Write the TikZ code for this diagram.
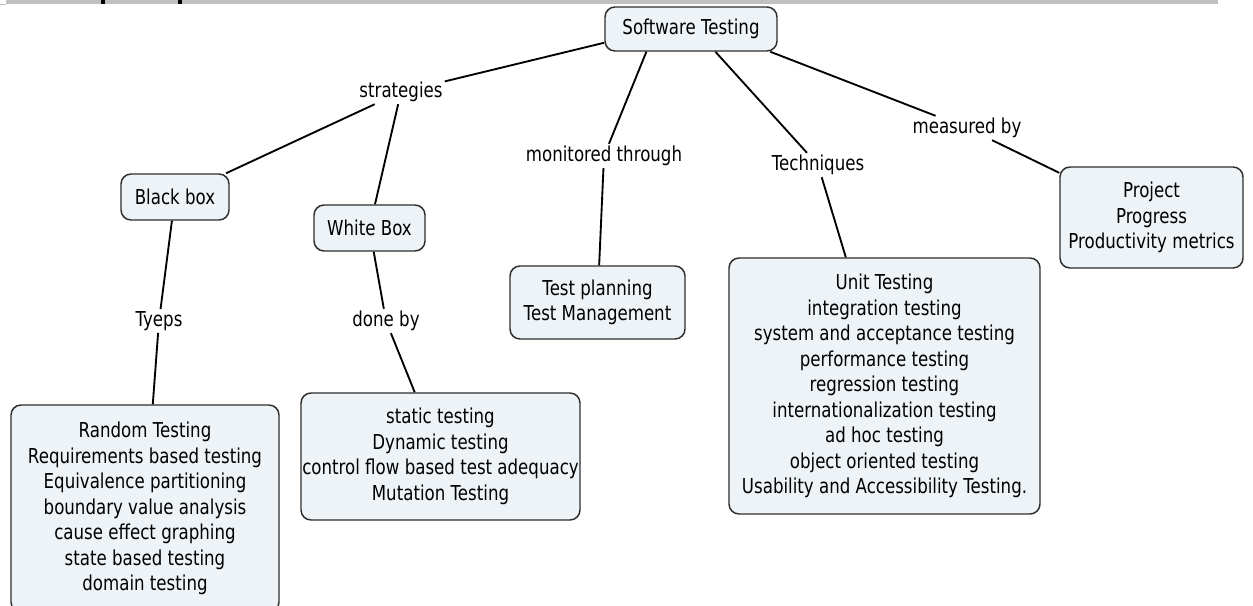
\documentclass[tikz,border=0pt]{standalone}
\usepackage{fontspec}
\setmainfont{DejaVu Sans}[FakeStretch=0.81]
\definecolor{boxfill}{RGB}{237,243,246}
\definecolor{boxline}{RGB}{45,45,45}
\definecolor{bargray}{RGB}{192,192,192}
\tikzset{
  concept/.style={draw=boxline, line width=1.1pt, fill=boxfill, rounded corners=7.5pt,
    align=center, inner sep=0pt, font=\fontsize{15.4}{19.1}\selectfont},
  lbl/.style={inner sep=1.5pt, align=center, font=\fontsize{15.4}{19.1}\selectfont},
  link/.style={line width=1.4pt, draw=black}
}
\begin{document}
\begin{tikzpicture}[x=0.75pt,y=-0.75pt]
\useasboundingbox (0,0) rectangle (1253,606);
\clip (0,0) rectangle (1253,606);
% top bar
\fill[bargray] (6,0) rectangle (1218,4);
\fill[bargray] (0,4) rectangle (6,5);
\fill[black] (101,0) rectangle (105,4);
\fill[black] (178,0) rectangle (182,4);
% concepts
\node[concept, minimum width=129pt, minimum height=33pt] (sw) at (691,29) {Software Testing};
\node[concept, minimum width=81pt, minimum height=34.5pt] (bb) at (175,197) {Black box};
\node[concept, minimum width=83.25pt, minimum height=34.5pt] (wb) at (369.5,228) {White Box};
\node[concept, minimum width=201pt, minimum height=155.25pt] (rnd) at (145,508.5)
  {Random Testing\\Requirements based testing\\Equivalence partitioning\\boundary value analysis\\cause effect graphing\\state based testing\\domain testing};
\node[concept, minimum width=209.25pt, minimum height=95.25pt] (stat) at (440.5,456.5)
  {static testing\\Dynamic testing\\control flow based test adequacy\\Mutation Testing};
\node[concept, minimum width=131.25pt, minimum height=54.75pt] (tp) at (597.5,302.5)
  {Test planning\\Test Management};
\node[concept, minimum width=233.25pt, minimum height=192pt] (unit) at (884.5,386)
  {Unit Testing\\integration testing\\system and acceptance testing\\performance testing\\regression testing\\internationalization testing\\ad hoc testing\\object oriented testing\\Usability and Accessibility Testing.};
\node[concept, minimum width=137.25pt, minimum height=75.75pt] (proj) at (1151.5,217.5)
  {Project\\Progress\\Productivity metrics};
% linking phrases
\node[lbl] (strat) at (401,92) {strategies};
\node[lbl] (tyeps) at (159,321) {Tyeps};
\node[lbl] (doneby) at (386,321) {done by};
\node[lbl] (mon) at (604,156) {monitored through};
\node[lbl] (tech) at (818,165) {Techniques};
\node[lbl] (meas) at (967,128) {measured by};
% connectors
\draw[link] (sw.189) -- (strat);
\draw[link] (strat) -- (bb);
\draw[link] (strat) -- (wb);
\draw[link] (bb) -- (tyeps);
\draw[link] (tyeps) -- (rnd);
\draw[link] (wb) -- (doneby);
\draw[link] (doneby) -- (stat);
\draw[link] (sw.207) -- (mon);
\draw[link] (mon) -- (tp);
\draw[link] (sw.317) -- (tech);
\draw[link] (tech) -- (unit);
\draw[link] (sw.344) -- (meas);
\draw[link] (meas) -- (proj);
\end{tikzpicture}
\end{document}
